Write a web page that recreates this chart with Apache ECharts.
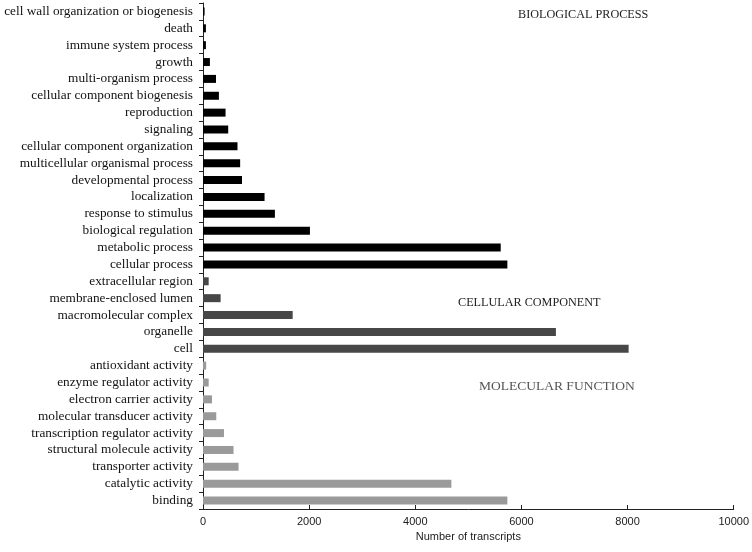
<!DOCTYPE html>
<html>
<head>
<meta charset="utf-8">
<script src="https://cdn.jsdelivr.net/npm/echarts@6/dist/echarts.min.js"></script>
<style>
  html, body { margin: 0; padding: 0; background: #fff; }
  #chart { width: 752px; height: 552px; }
</style>
</head>
<body>
<div id="chart"></div>
<script>
// biological process (top block)
const bpNames = [
  'cell wall organization or biogenesis', 'death', 'immune system process', 'growth',
  'multi-organism process', 'cellular component biogenesis', 'reproduction', 'signaling',
  'cellular component organization', 'multicellular organismal process', 'developmental process',
  'localization', 'response to stimulus', 'biological regulation', 'metabolic process', 'cellular process'
]
const bpValues = [30, 55, 55, 130, 245, 300, 425, 475, 650, 700, 735, 1160, 1355, 2015, 5610, 5735]

// cellular component
const ccNames = ['extracellular region', 'membrane-enclosed lumen', 'macromolecular complex', 'organelle', 'cell']
const ccValues = [107, 332, 1690, 6650, 8020]

// molecular function
const mfNames = [
  'antioxidant activity', 'enzyme regulator activity', 'electron carrier activity',
  'molecular transducer activity', 'transcription regulator activity', 'structural molecule activity',
  'transporter activity', 'catalytic activity', 'binding'
]
const mfValues = [60, 107, 170, 250, 395, 575, 670, 4680, 5735]

const xTicks = [0, 2000, 4000, 6000, 8000, 10000]

const groupColors = ['#000000', '#474747', '#9a9a9a']

const categories = [...bpNames, ...ccNames, ...mfNames]
const barData = []
;[bpValues, ccValues, mfValues].forEach((vals, gi) => {
  vals.forEach(v => {
    barData.push({ value: v, itemStyle: { color: groupColors[gi] } })
  })
})

const chart = echarts.init(document.getElementById('chart'))
const option = {
  animation: false,
  grid: { left: 203, right: 15, top: 3, bottom: 43, containLabel: false },
  xAxis: {
    type: 'value',
    min: xTicks[0],
    max: xTicks[xTicks.length - 1],
    interval: 2000,
    name: 'Number of transcripts',
    nameLocation: 'middle',
    nameGap: 22,
    nameTextStyle: { fontFamily: 'Liberation Sans', fontSize: 11, color: '#222' },
    axisLine: { show: true, lineStyle: { color: '#222', width: 1 } },
    axisTick: { show: true, inside: true, length: 4, lineStyle: { color: '#222' } },
    axisLabel: { fontFamily: 'Liberation Sans', fontSize: 11, color: '#222', margin: 7, formatter: v => String(v) },
    splitLine: { show: false }
  },
  yAxis: {
    type: 'category',
    inverse: true,
    data: categories,
    axisLine: { show: true, lineStyle: { color: '#222', width: 1 } },
    axisTick: { show: true, length: 4, interval: 0, lineStyle: { color: '#222' } },
    axisLabel: { interval: 0, fontFamily: 'Liberation Serif', fontSize: 13.3, color: '#111', margin: 10 }
  },
  series: [{
    type: 'bar',
    data: barData,
    barWidth: 8
  }],
  graphic: [
    { type: 'text', left: 518, top: 9, style: { text: 'BIOLOGICAL PROCESS', font: '12.2px "Liberation Serif"', fill: '#222' } },
    { type: 'text', left: 458, top: 297, style: { text: 'CELLULAR COMPONENT', font: '12.2px "Liberation Serif"', fill: '#222' } },
    { type: 'text', left: 479, top: 379, style: { text: 'MOLECULAR FUNCTION', font: '13.5px "Liberation Serif"', fill: '#555' } }
  ]
}
chart.setOption(option)
</script>
</body>
</html>
